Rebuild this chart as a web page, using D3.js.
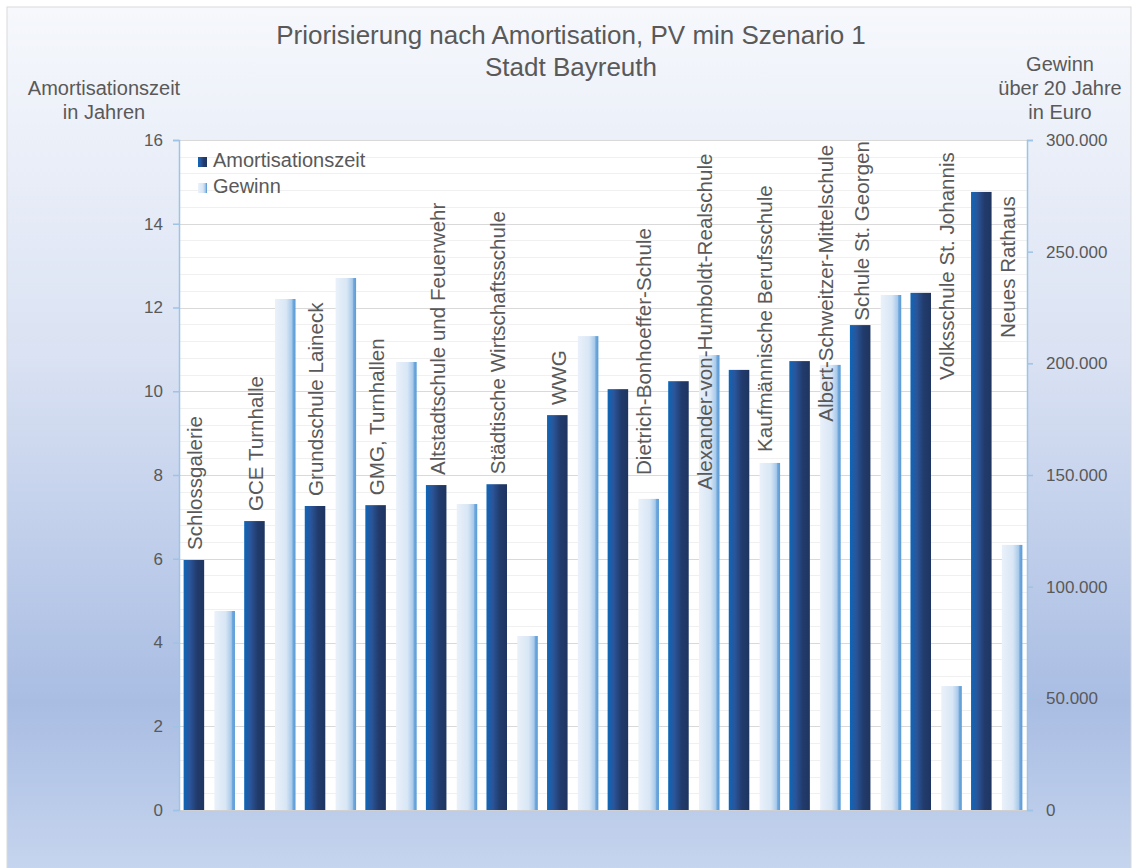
<!DOCTYPE html>
<html>
<head>
<meta charset="utf-8">
<script src="https://cdn.jsdelivr.net/npm/d3@7"></script>
<style>
  body { margin: 0; background: #fff; }
  svg { display: block; font-family: "Liberation Sans", Arial, sans-serif; }
</style>
</head>
<body>
<svg id="chart" width="1136" height="868"></svg>
<script>
  const categories = [
    'Schlossgalerie', 'GCE Turnhalle', 'Grundschule Laineck', 'GMG, Turnhallen',
    'Altstadtschule und Feuerwehr', 'Städtische Wirtschaftsschule', 'WWG',
    'Dietrich-Bonhoeffer-Schule', 'Alexander-von-Humboldt-Realschule',
    'Kaufmännische Berufsschule', 'Albert-Schweitzer-Mittelschule',
    'Schule St. Georgen', 'Volksschule St. Johannis', 'Neues Rathaus'
  ];
  const seriesNames = ['Amortisationszeit', 'Gewinn'];
  const amortisation = [5.97, 6.90, 7.26, 7.28, 7.76, 7.78, 9.43, 10.05, 10.24, 10.51, 10.72, 11.58, 12.35, 14.76];
  const gewinn = [89100, 228800, 238200, 200600, 137000, 77900, 212200, 139300, 203700, 155400, 199300, 230600, 55500, 118700];
  const yearTicks = [0, 2, 4, 6, 8, 10, 12, 14, 16];
  const euroTicks = [0, 50000, 100000, 150000, 200000, 250000, 300000];

  // labels that were moved by hand in the original: start (in years) over the Gewinn slot
  const movedLabels = { 7: 8.0, 8: 7.64, 9: 8.55, 10: 9.27, 12: 10.27, 13: 11.27 };

  const GREY_TEXT = '#595959';
  const AXIS_BLUE = '#9dc3e6';

  const svg = d3.select('#chart');
  const plotLeft = 179, plotRight = 1027, plotTop = 140, plotBottom = 810;

  const x0 = d3.scaleBand().domain(categories).range([plotLeft, plotRight]);
  const x1 = d3.scaleBand().domain(seriesNames).range([0, x0.bandwidth()])
    .paddingInner(1 / 3).paddingOuter(0.15);
  const y = d3.scaleLinear().domain([0, 16]).range([plotBottom, plotTop]);
  const yR = d3.scaleLinear().domain([0, 300000]).range([plotBottom, plotTop]);

  const de = d3.formatLocale({ decimal: ',', thousands: '.', grouping: [3], currency: ['', ' €'] });
  const fmtEuro = de.format(',.0f');

  // gradients
  const defs = svg.append('defs');
  const bg = defs.append('linearGradient').attr('id', 'bg')
    .attr('x1', 0).attr('y1', 0).attr('x2', 0).attr('y2', 1);
  [['0%', '#f6f8fc'], ['40%', '#dae2f3'], ['80%', '#a9bde3'], ['100%', '#c7d6ef']]
    .forEach(([o, c]) => bg.append('stop').attr('offset', o).attr('stop-color', c));

  const darkGrad = defs.append('linearGradient').attr('id', 'gradDark');
  [['0%', '#0d66b8'], ['30%', '#2b559a'], ['65%', '#213b6c'], ['100%', '#1f3560']]
    .forEach(([o, c]) => darkGrad.append('stop').attr('offset', o).attr('stop-color', c));

  const lightGrad = defs.append('linearGradient').attr('id', 'gradLight');
  [['0%', '#eaf1fa'], ['55%', '#d8e6f5'], ['82%', '#a8c9ea'], ['88%', '#6fa8dc'], ['100%', '#5b9bd5']]
    .forEach(([o, c]) => lightGrad.append('stop').attr('offset', o).attr('stop-color', c));

  // chart area
  svg.append('rect')
    .attr('x', 7).attr('y', 7).attr('width', 1124).attr('height', 870)
    .attr('fill', 'url(#bg)')
    .attr('stroke', '#d9d9d9');

  svg.append('rect')
    .attr('x', plotLeft).attr('y', plotTop)
    .attr('width', plotRight - plotLeft).attr('height', plotBottom - plotTop)
    .attr('fill', '#fff');

  // gridlines
  const minorTicks = d3.range(0, 16.01, 0.4).filter(v => Math.abs(v / 2 - Math.round(v / 2)) > 0.01);
  svg.append('g').selectAll('line').data(minorTicks).join('line')
    .attr('x1', plotLeft).attr('x2', plotRight)
    .attr('y1', d => Math.round(y(d)) + 0.5).attr('y2', d => Math.round(y(d)) + 0.5)
    .attr('stroke', '#f0f0f0');
  svg.append('g').selectAll('line').data(yearTicks).join('line')
    .attr('x1', plotLeft).attr('x2', plotRight)
    .attr('y1', d => Math.round(y(d)) + 0.5).attr('y2', d => Math.round(y(d)) + 0.5)
    .attr('stroke', '#d9d9d9');

  // bars
  const groups = svg.append('g').selectAll('g').data(categories).join('g')
    .attr('transform', d => `translate(${x0(d)},0)`);

  groups.append('rect')
    .attr('x', x1('Amortisationszeit'))
    .attr('width', x1.bandwidth())
    .attr('y', (d, i) => y(amortisation[i]))
    .attr('height', (d, i) => plotBottom - y(amortisation[i]))
    .attr('fill', 'url(#gradDark)');

  groups.append('rect')
    .attr('x', x1('Gewinn'))
    .attr('width', x1.bandwidth())
    .attr('y', (d, i) => yR(gewinn[i]))
    .attr('height', (d, i) => plotBottom - yR(gewinn[i]))
    .attr('fill', 'url(#gradLight)');

  // baseline
  svg.append('line')
    .attr('x1', plotLeft).attr('x2', plotRight)
    .attr('y1', plotBottom + 0.5).attr('y2', plotBottom + 0.5)
    .attr('stroke', '#d0d0d0');

  // axes
  const axisL = svg.append('g').attr('transform', `translate(${plotLeft},0)`)
    .call(d3.axisLeft(y).tickValues(yearTicks).tickSize(6).tickPadding(10));
  const axisR = svg.append('g').attr('transform', `translate(${plotRight},0)`)
    .call(d3.axisRight(yR).tickValues(euroTicks).tickFormat(fmtEuro).tickSize(6).tickPadding(13));

  [axisL, axisR].forEach(a => {
    a.select('.domain').attr('stroke', AXIS_BLUE).attr('stroke-width', 1.5);
    a.selectAll('.tick line').attr('stroke', AXIS_BLUE).attr('stroke-width', 1.5);
    a.selectAll('.tick text')
      .attr('fill', GREY_TEXT)
      .style('font-size', '17px')
      .style('font-family', '"Liberation Sans", Arial, sans-serif');
  });

  // data labels (category names), rotated
  const labels = svg.append('g').selectAll('text').data(categories).join('text')
    .text(d => d)
    .attr('fill', GREY_TEXT)
    .style('font-size', '20.6px')
    .attr('dy', '0.36em');

  labels.each(function (d, i) {
    const node = d3.select(this);
    const len = this.getComputedTextLength();
    let lx, ly;
    if (movedLabels[i] !== undefined) {
      lx = x0(d) + x1('Gewinn') + x1.bandwidth() / 2 - 5;
      ly = y(movedLabels[i]);
    } else {
      lx = x0(d) + x1('Amortisationszeit') + x1.bandwidth() / 2 + 1;
      ly = y(amortisation[i]) - 10;
      if (ly - len < plotTop + 1) ly = plotTop + 1 + len;
    }
    node.attr('transform', `translate(${lx},${ly}) rotate(-90)`);
  });

  // legend
  const legend = svg.append('g').attr('transform', 'translate(198,157)');
  seriesNames.forEach((name, i) => {
    legend.append('rect')
      .attr('x', 0).attr('y', i * 26).attr('width', 9).attr('height', 10)
      .attr('fill', i === 0 ? 'url(#gradDark)' : 'url(#gradLight)');
    legend.append('text')
      .attr('x', 15).attr('y', i * 26 + 10)
      .attr('fill', GREY_TEXT)
      .style('font-size', '20px')
      .text(name);
  });

  // titles
  svg.append('text')
    .attr('x', 571).attr('y', 44)
    .attr('text-anchor', 'middle')
    .attr('fill', GREY_TEXT)
    .style('font-size', '26px')
    .text('Priorisierung nach Amortisation, PV min Szenario 1');
  svg.append('text')
    .attr('x', 571).attr('y', 76)
    .attr('text-anchor', 'middle')
    .attr('fill', GREY_TEXT)
    .style('font-size', '26px')
    .text('Stadt Bayreuth');

  const leftTitle = ['Amortisationszeit', 'in Jahren'];
  svg.append('g').selectAll('text').data(leftTitle).join('text')
    .attr('x', 104).attr('y', (d, i) => 95 + i * 24)
    .attr('text-anchor', 'middle')
    .attr('fill', GREY_TEXT)
    .style('font-size', '20px')
    .text(d => d);

  const rightTitle = ['Gewinn', 'über 20 Jahre', 'in Euro'];
  svg.append('g').selectAll('text').data(rightTitle).join('text')
    .attr('x', 1060).attr('y', (d, i) => 71 + i * 24)
    .attr('text-anchor', 'middle')
    .attr('fill', GREY_TEXT)
    .style('font-size', '20px')
    .text(d => d);
</script>
</body>
</html>
